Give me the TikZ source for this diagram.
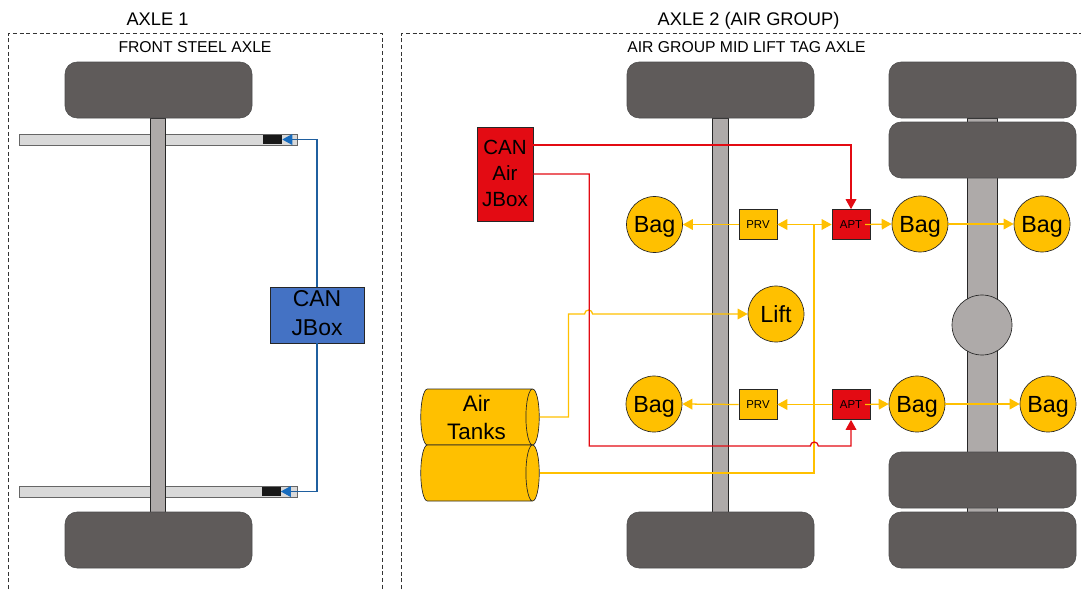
\documentclass[tikz,border=0pt]{standalone}
\usepackage{xcolor}
\usepackage{fontspec}
\setmainfont{Liberation Sans}
\usetikzlibrary{shapes.geometric, arrows.meta}
\definecolor{AxTyre}{RGB}{95,91,90}
\definecolor{AxShaft}{RGB}{174,170,169}
\definecolor{AxBeam}{RGB}{217,217,217}
\definecolor{AxAir}{RGB}{255,192,0}
\definecolor{AxRed}{RGB}{227,11,19}
\definecolor{AxBlue}{RGB}{68,114,196}
\definecolor{AxWire}{RGB}{31,95,159}
\definecolor{AxTip}{RGB}{24,108,190}
\newcommand{\pxu}{0.75pt}

\begin{document}
\begin{tikzpicture}[
          x=0.75pt, y=-0.75pt,
          frame/.style={densely dashed, line width=0.4pt, black!80},
          title/.style={font=\fontsize{13.7}{15}\selectfont, inner sep=0pt, anchor=base},
          subtitle/.style={font=\fontsize{11.8}{14}\selectfont, inner sep=0pt, anchor=base},
          tyre/.style={rectangle, rounded corners=9pt, draw=black!70, line width=0.4pt, fill=AxTyre,
                       minimum width=187*\pxu, minimum height=56*\pxu},
          shaft/.style={rectangle, draw=black!85, line width=0.5pt, fill=AxShaft, inner sep=0pt,
                        minimum height=394*\pxu},
          beam/.style={rectangle, draw=black!60, line width=0.6pt, fill=AxBeam, inner sep=0pt,
                       minimum width=278*\pxu, minimum height=11*\pxu},
          sensor/.style={rectangle, fill=black!90, inner sep=0pt,
                         minimum width=19*\pxu, minimum height=9*\pxu},
          jbox/.style={rectangle, draw=black!85, line width=0.5pt, align=center, inner sep=0pt,
                       font=\fontsize{17.2}{21.7}\selectfont},
          bagnode/.style={circle, draw=black!85, line width=0.5pt, fill=AxAir, inner sep=0pt,
                          minimum size=56*\pxu, text height=12.5pt, text depth=0pt,
                          font=\fontsize{17.5}{20}\selectfont},
          valve/.style={rectangle, draw=black!85, line width=0.5pt, inner sep=0pt,
                        minimum width=38*\pxu, minimum height=30*\pxu, font=\fontsize{8.6}{10}\selectfont},
          tank/.style={cylinder, draw=black!85, line width=0.5pt, fill=AxAir, inner sep=0pt, aspect=0.3,
                       minimum width=56*\pxu, minimum height=118.5*\pxu, align=center,
                       font=\fontsize{16.8}{21}\selectfont},
          airline/.style={draw=AxAir, line width=0.95pt},
          airarr/.style={airline, -{Triangle[length=7.5pt, width=8pt, fill=AxAir]}},
          redline/.style={draw=AxRed, line width=0.95pt, -{Triangle[length=7.5pt, width=8pt, fill=AxRed]}},
          canline/.style={draw=AxWire, line width=0.95pt, -{Triangle[length=7.5pt, width=8pt, AxTip]}}
        ]
        \useasboundingbox (0,0) rectangle (1081,589);

        \coordinate (frameA) at (8.5,33.5);
        \coordinate (frameB) at (401.5,33.5);
        \draw[frame] (8.5,589) -- (frameA) -- (382,33.5) -- (382,589);
        \draw[frame] (401.5,589) -- (frameB) -- (1082,33.5);

        \node[title] (axleA) at (157.5,26) {AXLE 1};
        \node[title] (axleB) at (748.5,26) {AXLE 2 (AIR GROUP)};
        \node[subtitle] (steel) at (195,52) {FRONT STEEL AXLE};
        \node[subtitle] (group) at (746.5,52) {AIR GROUP MID LIFT TAG AXLE};

        % Axle 1
        \node[beam] (beamT) at (158,139.5) {};
        \node[beam] (beamB) at (158,491.5) {};
        \node[shaft, minimum width=15*\pxu] (shaftA) at (158,315) {};
        \node[tyre] (tyreAT) at (158.5,90) {};
        \node[tyre] (tyreAB) at (158.5,540) {};
        \node[sensor] (sensorT) at (272.5,139.5) {};
        \node[sensor] (sensorB) at (271,491.5) {};
        \node[jbox, fill=AxBlue, minimum width=94*\pxu, minimum height=56*\pxu, text depth=3pt] (canbox)
              at (317,315) {CAN\\JBox};

        \draw[canline] (canbox.north) |- (sensorT.east);
        \draw[canline] (canbox.south) |- (sensorB.east);

        % Axle 2
        \node[shaft, minimum width=16*\pxu] (shaftB) at (720,315) {};
        \node[shaft, minimum width=30*\pxu] (shaftC) at (982,315) {};
        \node[tyre] (tyreBT) at (720.5,90) {};
        \node[tyre] (tyreBB) at (720.5,540) {};
        \node[tyre] (tyreCT) at (982.5,90) {};
        \node[tyre] (tyreDT) at (982.5,150) {};
        \node[tyre] (tyreCB) at (982.5,480) {};
        \node[tyre] (tyreDB) at (982.5,540) {};
        \node[circle, draw=black!85, line width=0.5pt, fill=AxShaft, minimum size=60*\pxu, inner sep=0pt] (diff)
              at (982,325) {};

        \node[jbox, fill=AxRed, minimum width=56*\pxu, minimum height=94*\pxu, text depth=1.5pt,
              font=\fontsize{15.4}{19.5}\selectfont] (airbox) at (505,174) {CAN\\Air\\JBox};
        \node[tank] (tankA) at (476.5,417) {Air\\Tanks};
        \node[tank] (tankB) at (476.5,473) {\phantom{Air}\\\phantom{Tanks}};

        \node[bagnode] (bagLT) at (654.5,224.5) {Bag};
        \node[bagnode] (bagMT) at (920,224) {Bag};
        \node[bagnode] (bagRT) at (1042,224) {Bag};
        \node[bagnode] (lift) at (776,314) {Lift};
        \node[bagnode] (bagLB) at (654,404) {Bag};
        \node[bagnode] (bagMB) at (917,404) {Bag};
        \node[bagnode] (bagRB) at (1048,404) {Bag};

        \node[valve, fill=AxAir] (prvT) at (758,224.5) {PRV};
        \node[valve, fill=AxAir] (prvB) at (758,404.5) {PRV};
        \node[valve, fill=AxRed] (aptT) at (851,224.5) {APT};
        \node[valve, fill=AxRed] (aptB) at (851,404.5) {APT};

        \coordinate (airTee) at (814,224.5);

        % Air feeds
        \draw[airarr] (tankA.east) -- ++(29,0) -- ++(0,-103) -- ++(16,0)
              arc[start angle=180, end angle=360, x radius=4, y radius=4] -- (lift.west);
        \draw[airline] (tankB.east) -| (airTee);
        \draw[airarr] (airTee) -- (aptT.west);
        \draw[airarr] (airTee) -- (prvT.east);
        \draw[airarr] (prvT.west) -- (bagLT.east);
        \draw[airarr] (prvB.west) -- (bagLB.east);
        \draw[airarr] (aptB.west) -- (prvB.east);
        \draw[airarr] ([xshift=-4pt]aptT.east) -- (bagMT.west);
        \draw[airarr] ([xshift=-4pt]aptB.east) -- (bagMB.west);
        \draw[airarr] (bagMT.east) -- (bagRT.west);
        \draw[airarr] (bagMB.east) -- (bagRB.west);

        % Signal wires
        \draw[redline] ([yshift=21.75pt]airbox.east) -| (aptT.north);
        \draw[redline] (airbox.east) -- ++(56,0) -- ++(0,272) -- ++(221,0)
              arc[start angle=180, end angle=360, x radius=4, y radius=4] -| (aptB.south);
\end{tikzpicture}
\end{document}
